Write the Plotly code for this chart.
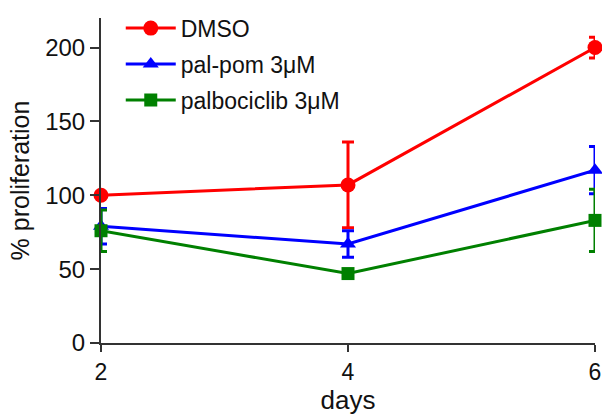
import plotly.graph_objects as go

# Proliferation time course (mean ± error) for three treatments
days = [2, 4, 6]

dmso = [100, 107, 200]
dmso_err = [0, 29, 7]

palpom = [79, 67, 117]
palpom_err = [12, 9, 16]

palbo = [76, 47, 83]
palbo_err = [14, 2, 21]

series = [
    ("DMSO", dmso, dmso_err, "#ff0000", "circle", 15),
    ("pal-pom 3\u03bcM", palpom, palpom_err, "#0000ff", "triangle-up", 14),
    ("palbociclib 3\u03bcM", palbo, palbo_err, "#008000", "square", 13),
]

FONT = "Arial, Liberation Sans, Helvetica, sans-serif"

fig = go.Figure()
for i, (name, y, err, color, symbol, msize) in enumerate(series):
    fig.add_trace(go.Scatter(
        x=days, y=y, name=name, mode="lines+markers",
        legendgroup=f"g{i}",
        line=dict(color=color, width=3),
        marker=dict(color=color, symbol=symbol, size=msize),
        error_y=dict(type="data", array=err, visible=True,
                     color=color, thickness=3, width=6),
        cliponaxis=False,
    ))

fig.update_layout(
    width=602, height=415,
    margin=dict(l=101, r=7, t=13, b=72),
    paper_bgcolor="white", plot_bgcolor="white",
    font=dict(family=FONT, color="#111111", size=22),
    showlegend=True,
    legend=dict(
        x=0.04, y=1.035, xanchor="left", yanchor="top",
        bgcolor="rgba(0,0,0,0)", borderwidth=0,
        font=dict(family=FONT, size=23, color="#111111"),
        tracegroupgap=3, itemwidth=50,
    ),
    xaxis=dict(
        range=[2, 6], tickvals=[2, 4, 6], ticktext=["2", "4", "6"],
        automargin=False,
        showgrid=False, zeroline=False,
        showline=True, linecolor="#333333", linewidth=2,
        ticks="outside", ticklen=7, tickwidth=2, tickcolor="#333333",
        tickfont=dict(size=23),
        title=dict(text="days", font=dict(size=26), standoff=12),
    ),
    yaxis=dict(
        range=[0, 220], tickvals=[0, 50, 100, 150, 200],
        automargin=False,
        showgrid=False, zeroline=False,
        showline=True, linecolor="#333333", linewidth=2,
        ticks="outside", ticklen=9, tickwidth=2, tickcolor="#333333",
        tickfont=dict(size=24),
        title=dict(text="% proliferation", font=dict(size=25), standoff=8),
    ),
)

fig.write_html("out.html")
